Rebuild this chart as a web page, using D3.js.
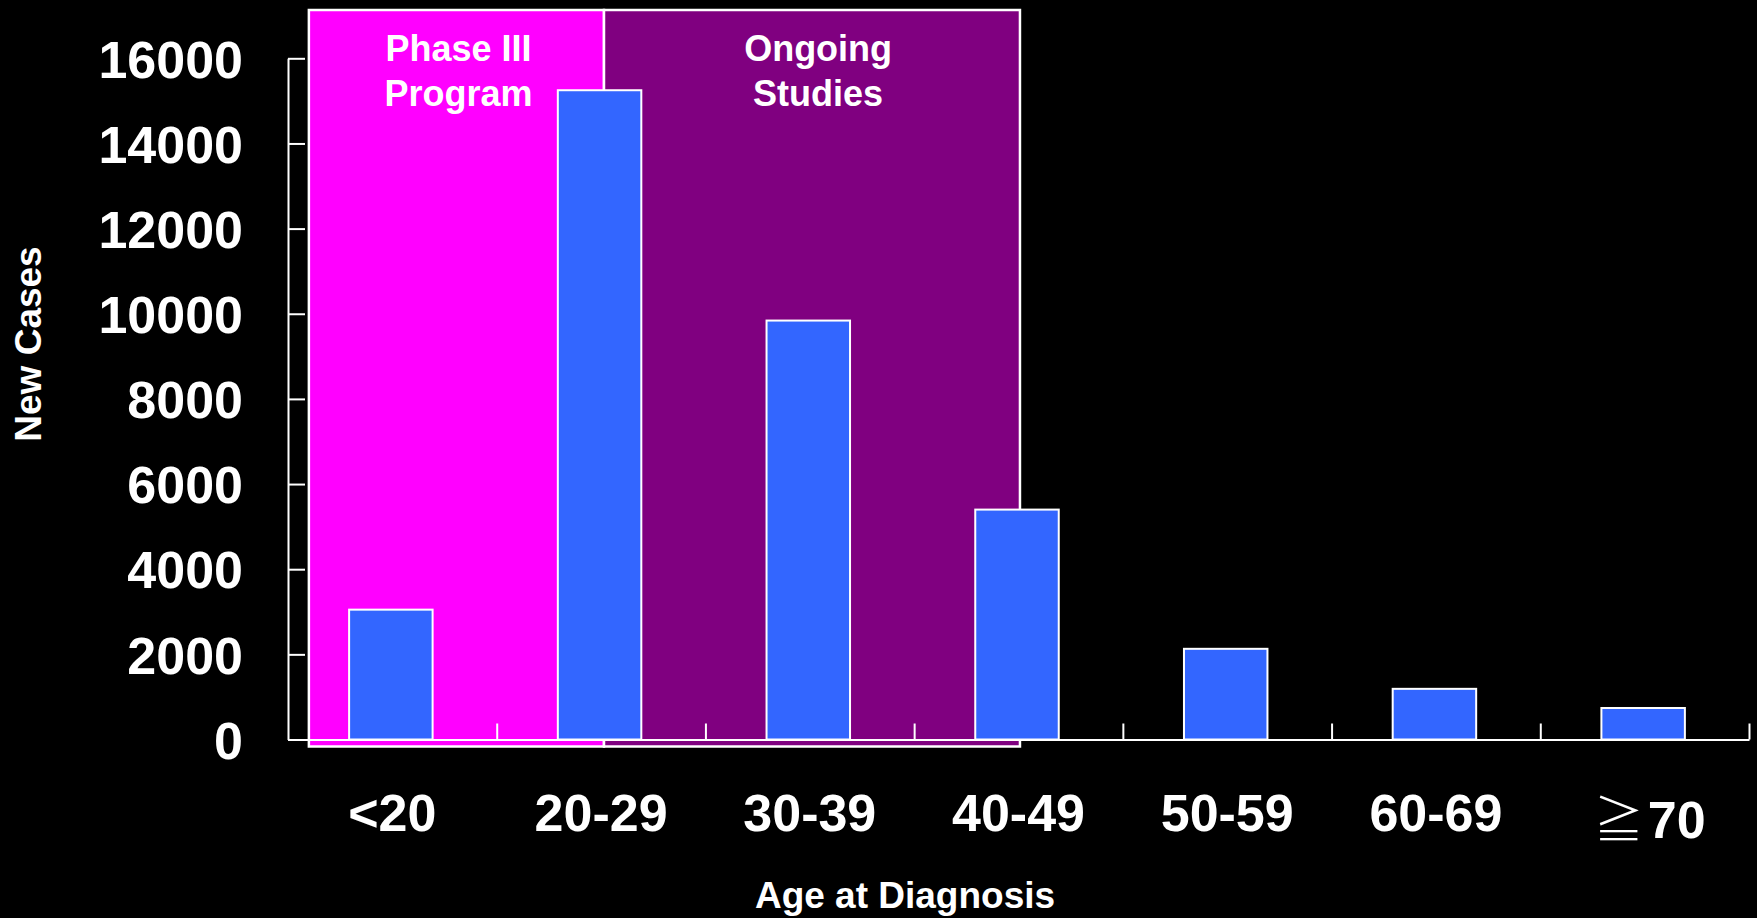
<!DOCTYPE html>
<html>
<head>
<meta charset="utf-8">
<script src="https://cdn.jsdelivr.net/npm/d3@7"></script>
<style>
  html, body { margin: 0; padding: 0; background: #000; }
  svg { display: block; }
  text { font-family: "Liberation Sans", Arial, sans-serif; font-weight: bold; fill: #fff; }
</style>
</head>
<body>
<svg id="chart" width="1757" height="918"></svg>
<script>
// ---- data ----
const categories = ["<20", "20-29", "30-39", "40-49", "50-59", "60-69", "\u226770"];
const newCases   = [3050, 15250, 9840, 5400, 2130, 1190, 740];
const yTicks     = [0, 2000, 4000, 6000, 8000, 10000, 12000, 14000, 16000];
const phaseNames = [["Phase III", "Program"], ["Ongoing", "Studies"]];
const phaseStart = [0.1, 1.514];   // in category-band units
const phaseEnd   = [1.514, 3.507];
const phaseColors = ["#ff00ff", "#800080"];
const phaseLabelPos = [0.817, 2.54];

// ---- layout ----
const svg = d3.select("#chart");
svg.append("rect").attr("width", 1757).attr("height", 918).attr("fill", "#000");

const x0 = 288, x1 = 1749, yBase = 739.5, yTop = 58.3;
const x = d3.scaleBand().domain(categories).range([x0, x1]).paddingInner(0).paddingOuter(0);
const xi = d3.scaleLinear().domain([0, categories.length]).range([x0, x1]);
const y = d3.scaleLinear().domain([0, 16000]).range([yBase, yTop]);

// phase boxes
const boxTop = 10, boxBottom = 746.5;
phaseStart.forEach((s, i) => {
  svg.append("rect")
    .attr("x", xi(s)).attr("y", boxTop)
    .attr("width", xi(phaseEnd[i]) - xi(s))
    .attr("height", boxBottom - boxTop)
    .attr("fill", phaseColors[i])
    .attr("stroke", "#fff").attr("stroke-width", 2.5);
  const t = svg.append("text")
    .attr("text-anchor", "middle")
    .style("font-size", "36px");
  phaseNames[i].forEach((line, j) => {
    t.append("tspan").attr("x", xi(phaseLabelPos[i])).attr("y", 61 + j * 45).text(line);
  });
});

// bars
const bw = x.bandwidth() * 0.4;
svg.append("g").selectAll("rect").data(categories).join("rect")
  .attr("x", d => x(d) + (x.bandwidth() - bw) / 2 - 1.5)
  .attr("y", (d, i) => y(newCases[i]))
  .attr("width", bw)
  .attr("height", (d, i) => yBase - y(newCases[i]))
  .attr("fill", "#3366ff")
  .attr("stroke", "#fff").attr("stroke-width", 2);

// y axis
const yAxis = d3.axisLeft(y).tickValues(yTicks).tickSize(-17).tickSizeOuter(0).tickPadding(45)
  .tickFormat(d3.format("d"));
const gy = svg.append("g").attr("transform", `translate(${x0},0)`).call(yAxis);
gy.selectAll("path, line").attr("stroke", "#fff").attr("stroke-width", 2);
gy.selectAll("text").style("font-size", "52px").attr("fill", "#fff")
  .style("font-family", "'Liberation Sans', Arial, sans-serif").style("font-weight", "bold")
  .attr("dy", "0.36em");

// x axis (ticks at band boundaries)
const xTickAxis = d3.axisBottom(xi).tickValues(d3.range(1, categories.length + 1))
  .tickSize(-16).tickSizeOuter(0).tickFormat("");
const gx = svg.append("g").attr("transform", `translate(0,${yBase})`).call(xTickAxis);
gx.selectAll("path, line").attr("stroke", "#fff").attr("stroke-width", 2);

// x category labels
const xLabAxis = d3.axisBottom(x).tickSize(0).tickPadding(0);
const gxl = svg.append("g").attr("transform", `translate(0,${yBase})`).call(xLabAxis);
gxl.select(".domain").remove();
gxl.selectAll("text")
  .attr("y", (d, i) => i === categories.length - 1 ? 98 : 91.5).attr("dy", 0)
  .attr("fill", "#fff")
  .style("font-size", "52px")
  .style("font-family", "'Liberation Sans', Arial, sans-serif").style("font-weight", "bold")
  .each(function(d) {
    if (d.startsWith("\u2267")) {
      const s = d3.select(this);
      s.text(null);
      s.attr("dx", 5);
      s.append("tspan").text("\u2267")
        .style("font-family", "'Noto Sans CJK JP', sans-serif").style("font-weight", "300")
        .style("font-size", "50px");
      s.append("tspan").text(d.slice(1)).attr("dx", 4);
    }
  });

// axis titles
svg.append("text").attr("x", 905).attr("y", 908).attr("text-anchor", "middle")
  .style("font-size", "37px").text("Age at Diagnosis");
svg.append("text").attr("transform", "translate(41,344) rotate(-90)").attr("text-anchor", "middle")
  .style("font-size", "37px").text("New Cases");
</script>
</body>
</html>
